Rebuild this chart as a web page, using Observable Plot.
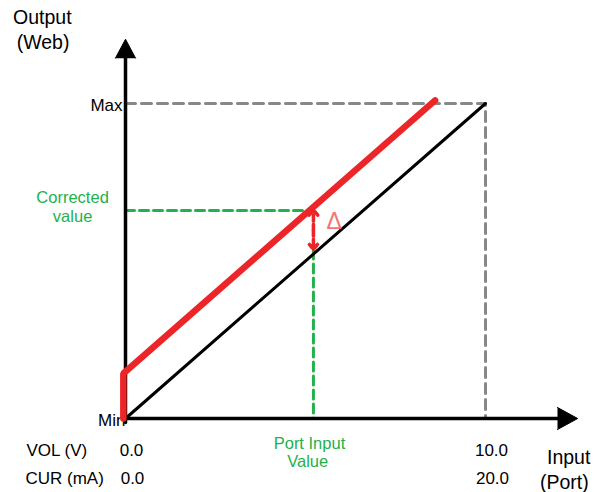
<!DOCTYPE html>
<html>
<head>
<meta charset="utf-8">
<script src="https://cdn.jsdelivr.net/npm/d3@7"></script>
<script src="https://cdn.jsdelivr.net/npm/@observablehq/plot@0.6"></script>
<style>
  html, body { margin: 0; padding: 0; background: #fff; }
</style>
</head>
<body>
<div id="chart"></div>
<script>
// ---- data (in chart units: input volts 0..10, output % Min..Max) ----
const xTickValues = [0, 10];
const volLabels = ["0.0", "10.0"];
const curLabels = ["0.0", "20.0"];
const yTickValues = [0, 100];
const yTickLabels = ["Min", "Max"];
const idealX = [0, 10];
const idealY = [0, 100];
const correctedX = [-0.06, -0.06, 8.6];
const correctedY = [0, 14.3, 101];
const portInput = 5.22;
const correctedValue = 66;
const measuredValue = 53.5;

const GREEN = "#22b14c";
const RED = "#ec2628";
const GRAY = "#888888";

const ideal = idealX.map((x, i) => ({x, y: idealY[i]}));
const corrected = correctedX.map((x, i) => ({x, y: correctedY[i]}));
const midDelta = (correctedValue + measuredValue) / 2;
const yTicks = yTickValues.map((v, i) => ({v, label: yTickLabels[i]}));

try {
const chart = Plot.plot({
  width: 597,
  height: 492,
  margin: 0,
  x: {domain: [-125 / 36, 472 / 36], axis: null},
  y: {domain: [-74 / 3.15, 418 / 3.15], axis: null},
  style: {fontFamily: "'Liberation Sans', Arial, sans-serif", background: "white"},
  marks: [
    // y tick labels (drawn under the axis)
    Plot.text(yTicks.filter(d => d.v === 0), {x: 0, y: -0.8, text: "label", textAnchor: "end", dx: 0, fontSize: 17, fill: "black"}),
    Plot.text(yTicks.filter(d => d.v === 100), {x: 0, y: 99.4, text: "label", textAnchor: "end", dx: -3, fontSize: 17, fill: "black"}),
    // gray dashed max guides
    Plot.line([{x: 0, y: 100}, {x: 10, y: 100}, {x: 10, y: 0}], {x: "x", y: "y", stroke: GRAY, strokeWidth: 3, strokeDasharray: "10,6"}),
    // green dashed guides
    Plot.line([{x: 0, y: correctedValue}, {x: portInput, y: correctedValue}], {x: "x", y: "y", stroke: GREEN, strokeWidth: 3, strokeDasharray: "9,5"}),
    Plot.line([{x: portInput, y: measuredValue}, {x: portInput, y: 0}], {x: "x", y: "y", stroke: GREEN, strokeWidth: 3, strokeDasharray: "9,5"}),
    // ideal line
    Plot.line(ideal, {x: "x", y: "y", stroke: "black", strokeWidth: 3}),
    // axes
    Plot.line([{x: 0, y: -1.3}, {x: 0, y: 114.6}], {x: "x", y: "y", stroke: "black", strokeWidth: 3.5}),
    Plot.line([{x: 0, y: 0}, {x: 12.05, y: 0}], {x: "x", y: "y", stroke: "black", strokeWidth: 3.5}),
    Plot.line([{x: -0.28, y: 114.4}, {x: 0, y: 120.4}, {x: 0.28, y: 114.4}], {x: "x", y: "y", fill: "black", stroke: "black", strokeWidth: 1}),
    Plot.line([{x: 12.0, y: 3.5}, {x: 12.56, y: 0}, {x: 12.0, y: -3.5}], {x: "x", y: "y", fill: "black", stroke: "black", strokeWidth: 1}),
    // corrected line
    Plot.line(corrected, {x: "x", y: "y", stroke: RED, strokeWidth: 6.5, strokeLinejoin: "miter"}),
    // delta double arrow
    Plot.arrow([
      {x1: portInput, y1: midDelta, x2: portInput, y2: correctedValue + 0.2},
      {x1: portInput, y1: midDelta, x2: portInput, y2: measuredValue + 0.2}
    ], {x1: "x1", y1: "y1", x2: "x2", y2: "y2", stroke: RED, strokeWidth: 3.5, headLength: 14, headAngle: 80, strokeDasharray: "6,3"}),
    Plot.text(["Δ"], {x: 5.8, y: 62.6, text: d => d, fill: "#f47575", fontSize: 23}),
    // x tick labels
    Plot.text(xTickValues, {x: d => d, y: -10.3, text: (d, i) => volLabels[i], dx: 6, fontSize: 17, fill: "black"}),
    Plot.text(xTickValues, {x: d => d, y: -19.2, text: (d, i) => curLabels[i], dx: 7, fontSize: 17, fill: "black"}),
    Plot.text(["VOL (V)"], {x: -2.75, y: -10.3, text: d => d, textAnchor: "start", fontSize: 17, fill: "black"}),
    Plot.text(["CUR (mA)"], {x: -2.78, y: -19.2, text: d => d, textAnchor: "start", fontSize: 17, fill: "black"}),
    // axis titles
    Plot.text(["Output"], {x: -2.31, y: 127.3, text: d => d, fontSize: 19.5, fill: "black"}),
    Plot.text(["(Web)"], {x: -2.29, y: 119.4, text: d => d, fontSize: 19.5, fill: "black"}),
    Plot.text(["Input"], {x: 12.31, y: -12.4, text: d => d, fontSize: 19.5, fill: "black"}),
    Plot.text(["(Port)"], {x: 12.19, y: -20.3, text: d => d, fontSize: 19.5, fill: "black"}),
    // green annotations
    Plot.text(["Corrected"], {x: -1.47, y: 70.2, text: d => d, fontSize: 16.5, fill: GREEN}),
    Plot.text(["value"], {x: -1.47, y: 64.1, text: d => d, fontSize: 16.5, fill: GREEN}),
    Plot.text(["Port Input"], {x: 5.11, y: -7.94, text: d => d, fontSize: 16.5, fill: GREEN}),
    Plot.text(["Value"], {x: 5.06, y: -13.65, text: d => d, fontSize: 16.5, fill: GREEN})
  ]
});
document.getElementById("chart").appendChild(chart);
} catch (e) {
  document.getElementById("chart").textContent = "ERR: " + e.message;
}
</script>
</body>
</html>
